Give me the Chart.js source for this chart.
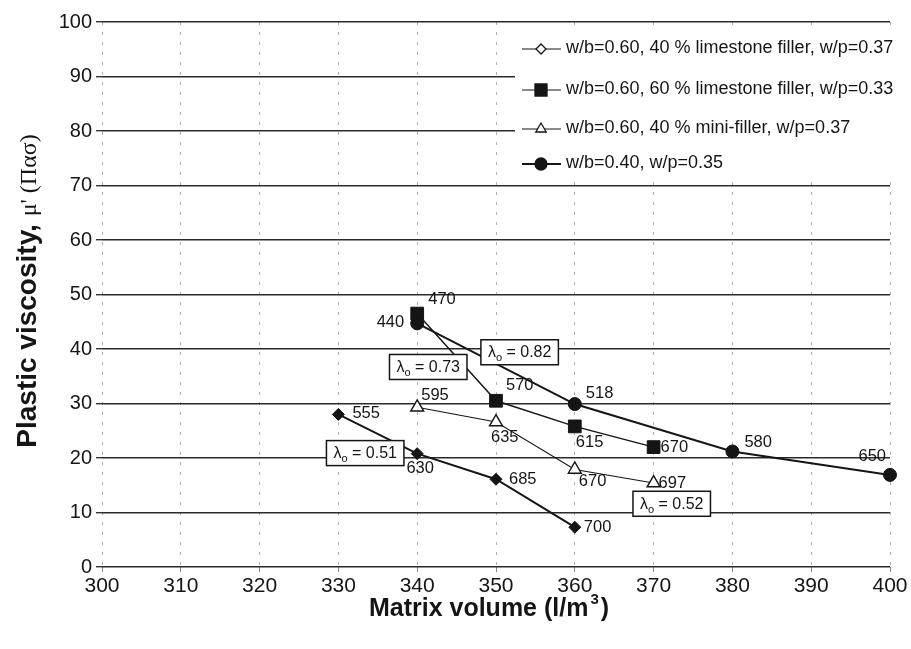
<!DOCTYPE html>
<html>
<head>
<meta charset="utf-8">
<script src="https://cdn.jsdelivr.net/npm/chart.js@4/dist/chart.umd.min.js"></script>
<style>
  html, body { margin: 0; padding: 0; background: #fff; }
  #wrap { width: 911px; height: 649px; }
</style>
</head>
<body>
<div id="wrap"><canvas id="c" width="911" height="649"></canvas></div>
<script>
// Matrix volume (l/m3) and plastic viscosity for each mix family
const limestone40Volume = [330, 340, 350, 360];
const limestone40Viscosity = [28, 20.8, 16.1, 7.3];
const limestone40Labels = ['555', '630', '685', '700'];

const limestone60Volume = [340, 350, 360, 370];
const limestone60Viscosity = [46.5, 30.5, 25.8, 22];
const limestone60Labels = ['470', '570', '615', '670'];

const miniFillerVolume = [340, 350, 360, 370];
const miniFillerViscosity = [29.3, 26.6, 17.9, 15.4];
const miniFillerLabels = ['595', '635', '670', '697'];

const wb040Volume = [340, 360, 380, 400];
const wb040Viscosity = [44.7, 29.9, 21.2, 16.9];
const wb040Labels = ['440', '518', '580', '650'];

const seriesNames = [
  'w/b=0.60, 40 % limestone filler, w/p=0.37',
  'w/b=0.60, 60 % limestone filler, w/p=0.33',
  'w/b=0.60, 40 % mini-filler, w/p=0.37',
  'w/b=0.40, w/p=0.35'
];

// λo values and the (volume, viscosity) spot each note sits at
const lambdaValues = ['0.82', '0.73', '0.51', '0.52'];
const lambdaVolume = [353.0, 341.4, 333.4, 372.3];
const lambdaViscosity = [39.4, 36.7, 20.9, 11.6];

const xTicks = [300, 310, 320, 330, 340, 350, 360, 370, 380, 390, 400];
const yTicks = [0, 10, 20, 30, 40, 50, 60, 70, 80, 90, 100];

const INK = '#151515';
const SANS = '"Liberation Sans", Arial, sans-serif';

function pts(xs, ys) { return xs.map((x, i) => ({ x: x, y: ys[i] })); }

// label placement next to each point: [dx, dy, align]
const labelOffsets = [
  [[14, -1, 'left'], [3, 15, 'center'], [13, 0, 'left'], [9, 0, 'left']],
  [[11, -14, 'left'], [10, -15, 'left'], [1, 16, 'left'], [7, 0, 'left']],
  [[4, -12, 'left'], [-5, 15, 'left'], [4, 12, 'left'], [5, 0, 'left']],
  [[-13, -1, 'right'], [11, -11, 'left'], [12, -9, 'left'], [-4, -18, 'right']]
];
const pointLabels = [limestone40Labels, limestone60Labels, miniFillerLabels, wb040Labels];

const legendStyles = [
  { style: 'rectRot', r: 5, fill: '#fff', lw: 1.2 },
  { style: 'rect', r: 8.5, fill: INK, lw: 1.2 },
  { style: 'triangle', r: 6, fill: '#fff', lw: 1.2 },
  { style: 'circle', r: 6, fill: INK, lw: 2 }
];

function drawMarker(ctx, style, x, y, r) {
  ctx.beginPath();
  if (style === 'circle') {
    ctx.arc(x, y, r, 0, Math.PI * 2);
  } else if (style === 'rect') {
    const s = r * Math.SQRT1_2;
    ctx.rect(x - s, y - s, 2 * s, 2 * s);
  } else if (style === 'rectRot') {
    ctx.moveTo(x - r, y); ctx.lineTo(x, y - r); ctx.lineTo(x + r, y); ctx.lineTo(x, y + r);
    ctx.closePath();
  } else if (style === 'triangle') {
    const edge = 3 * r / Math.sqrt(3);
    const h = edge * Math.sqrt(3) / 2;
    ctx.moveTo(x - edge / 2, y + h / 3);
    ctx.lineTo(x + edge / 2, y + h / 3);
    ctx.lineTo(x, y - 2 * h / 3);
    ctx.closePath();
  }
  ctx.fill();
  ctx.stroke();
}

const legendBox = {
  id: 'legendBox',
  beforeDatasetsDraw(chart) {
    const ctx = chart.ctx;
    ctx.save();
    ctx.fillStyle = '#fff';
    ctx.fillRect(515, 28, 382, 150);
    const rows = [48, 89, 128, 163];
    ctx.font = '18px ' + SANS;
    ctx.textBaseline = 'middle';
    rows.forEach((y, i) => {
      const ls = legendStyles[i];
      ctx.strokeStyle = INK;
      ctx.lineWidth = ls.lw;
      ctx.beginPath();
      ctx.moveTo(522, y + 1); ctx.lineTo(561, y + 1);
      ctx.stroke();
      ctx.fillStyle = ls.fill;
      ctx.lineWidth = 1.3;
      drawMarker(ctx, ls.style, 541, y + 1, ls.r);
      ctx.fillStyle = INK;
      ctx.textAlign = 'left';
      ctx.fillText(seriesNames[i], 566, y);
    });
    ctx.restore();
  }
};

const notes = {
  id: 'notes',
  afterDatasetsDraw(chart) {
    const ctx = chart.ctx;
    const xs = chart.scales.x, ys = chart.scales.y;
    ctx.save();
    // λo notes
    lambdaValues.forEach((v, i) => {
      const cx = xs.getPixelForValue(lambdaVolume[i]);
      const cy = ys.getPixelForValue(lambdaViscosity[i]);
      const main = '16px ' + SANS;
      const sub = '11px ' + SANS;
      ctx.font = main;
      const wL = ctx.measureText('λ').width;
      const wR = ctx.measureText(' = ' + v).width;
      ctx.font = sub;
      const wS = ctx.measureText('o').width;
      const total = wL + wS + wR;
      const bw = total + 14, bh = 25;
      ctx.fillStyle = '#fff';
      ctx.strokeStyle = INK;
      ctx.lineWidth = 1.5;
      ctx.fillRect(cx - bw / 2, cy - bh / 2, bw, bh);
      ctx.strokeRect(cx - bw / 2, cy - bh / 2, bw, bh);
      ctx.fillStyle = INK;
      ctx.textBaseline = 'alphabetic';
      ctx.textAlign = 'left';
      const x0 = cx - total / 2;
      const base = cy + 5;
      ctx.font = main;
      ctx.fillText('λ', x0, base);
      ctx.font = sub;
      ctx.fillText('o', x0 + wL, base + 4);
      ctx.font = main;
      ctx.fillText(' = ' + v, x0 + wL + wS, base);
    });
    // point value labels
    ctx.font = '16.5px ' + SANS;
    ctx.fillStyle = INK;
    ctx.textBaseline = 'middle';
    chart.data.datasets.forEach((ds, di) => {
      const meta = chart.getDatasetMeta(di);
      meta.data.forEach((el, pi) => {
        const off = labelOffsets[di][pi];
        ctx.textAlign = off[2];
        ctx.fillText(pointLabels[di][pi], el.x + off[0], el.y + off[1]);
      });
    });
    ctx.restore();
  }
};

const axisTitles = {
  id: 'axisTitles',
  afterDraw(chart) {
    const ctx = chart.ctx;
    ctx.save();
    ctx.fillStyle = INK;
    // y title: bold words followed by the symbol-font unit
    const boldFont = 'bold 28px ' + SANS;
    const symFont = '24px "Liberation Serif", "DejaVu Serif", serif';
    const p1 = 'Plastic viscosity, ';
    const p2 = "μ' (Πασ)";
    ctx.font = boldFont;
    const w1 = ctx.measureText(p1).width;
    ctx.font = symFont;
    const w2 = ctx.measureText(p2).width;
    ctx.translate(36, 291);
    ctx.rotate(-Math.PI / 2);
    ctx.textBaseline = 'alphabetic';
    ctx.textAlign = 'left';
    const start = -(w1 + w2) / 2;
    ctx.font = boldFont;
    ctx.fillText(p1, start, 0);
    ctx.font = symFont;
    ctx.fillText(p2, start + w1, 0);
    ctx.setTransform(1, 0, 0, 1, 0, 0);
    // x title with superscript 3
    const xf = 'bold 25px ' + SANS;
    const sf = 'bold 15px ' + SANS;
    const a = 'Matrix volume (l/m', b = '3', c = ')';
    ctx.font = xf;
    const wa = ctx.measureText(a).width, wc = ctx.measureText(c).width;
    ctx.font = sf;
    const wb = ctx.measureText(b).width + 4;
    const tot = wa + wb + wc;
    const x0 = 489 - tot / 2;
    const base = 616;
    ctx.font = xf; ctx.fillText(a, x0, base);
    ctx.font = sf; ctx.fillText(b, x0 + wa + 2, base - 12);
    ctx.font = xf; ctx.fillText(c, x0 + wa + wb, base);
    ctx.restore();
  }
};

const common = { showLine: true, tension: 0, borderColor: INK, pointBorderColor: INK, clip: false, pointHoverRadius: 6 };

new Chart(document.getElementById('c'), {
  type: 'scatter',
  data: {
    datasets: [
      Object.assign({}, common, {
        label: seriesNames[0], data: pts(limestone40Volume, limestone40Viscosity),
        borderWidth: 2, pointStyle: 'rectRot', pointRadius: 6, pointBackgroundColor: INK, pointBorderWidth: 1
      }),
      Object.assign({}, common, {
        label: seriesNames[1], data: pts(limestone60Volume, limestone60Viscosity),
        borderWidth: 1.4, pointStyle: 'rect', pointRadius: 9, pointBackgroundColor: INK, pointBorderWidth: 1
      }),
      Object.assign({}, common, {
        label: seriesNames[2], data: pts(miniFillerVolume, miniFillerViscosity),
        borderWidth: 1.1, pointStyle: 'triangle', pointRadius: 7.5, pointBackgroundColor: '#fff', pointBorderWidth: 1.4
      }),
      Object.assign({}, common, {
        label: seriesNames[3], data: pts(wb040Volume, wb040Viscosity),
        borderWidth: 2, pointStyle: 'circle', pointRadius: 6.5, pointBackgroundColor: INK, pointBorderWidth: 1
      })
    ]
  },
  options: {
    responsive: false,
    animation: false,
    layout: { padding: { top: 22, right: 21, left: 0, bottom: 0 } },
    plugins: { legend: { display: false }, tooltip: { enabled: false } },
    scales: {
      x: {
        type: 'linear', min: 300, max: 400,
        afterBuildTicks(s) { s.ticks = xTicks.map(v => ({ value: v })); },
        afterFit(s) { s.height = 82; },
        ticks: { color: INK, font: { family: SANS, size: 21 }, padding: 2 },
        // vertical grid lines: faint and broken
        grid: { color: '#b0b0b0', lineWidth: 1, tickLength: 5, tickColor: '#888' },
        border: { display: false, dash: [3, 7] }
      },
      y: {
        type: 'linear', min: 0, max: 100,
        afterBuildTicks(s) { s.ticks = yTicks.map(v => ({ value: v })); },
        afterFit(s) { s.width = 102; },
        ticks: { color: INK, font: { family: SANS, size: 20 }, padding: 4 },
        grid: { color: '#2a2a2a', lineWidth: 1.4, tickLength: 6, tickColor: '#333' },
        border: { display: false, dash: [] }
      }
    }
  },
  plugins: [legendBox, notes, axisTitles]
});
</script>
</body>
</html>
